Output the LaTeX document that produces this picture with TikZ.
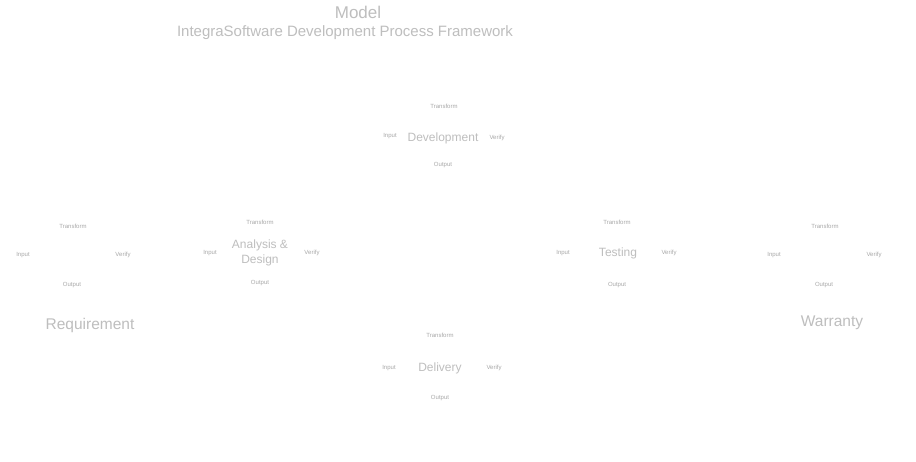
\documentclass[tikz,border=0pt]{standalone}
\usepackage{fontspec}
\setmainfont{Liberation Sans}
\definecolor{faint}{HTML}{BEBEBE}
\definecolor{faintsmall}{HTML}{A8A8A8}
\begin{document}
\begin{tikzpicture}[x=1pt,y=-1pt,
  every node/.style={inner sep=0pt,outer sep=0pt},
  titlebig/.style={text=faint,font=\fontsize{17}{18}\selectfont},
  subtitle/.style={text=faint,font=\fontsize{15}{16}\selectfont},
  phase/.style={text=faint,font=\fontsize{12}{15}\selectfont,align=center},
  phasebig/.style={text=faint,font=\fontsize{15.5}{17}\selectfont},
  tag/.style={text=faintsmall,font=\fontsize{6}{7}\selectfont}]
\fill[white] (0,0) rectangle (916,461);
\useasboundingbox (0,0) rectangle (916,461);
\node[titlebig] (title) at (358,12) {Model};
\node[subtitle] (subtitle) at (345,33) {IntegraSoftware Development Process Framework};
% Development
\node[phase] (dev) at (443,138) {Development};
\node[tag] (devT) at (444,106) {Transform};
\node[tag] (devI) at (390,136) {Input};
\node[tag] (devV) at (497,138) {Verify};
\node[tag] (devO) at (443,165) {Output};
% Requirement
\node[phasebig] (req) at (90,325) {Requirement};
\node[tag] (reqT) at (73,226) {Transform};
\node[tag] (reqI) at (23,255) {Input};
\node[tag] (reqV) at (123,255) {Verify};
\node[tag] (reqO) at (72,285) {Output};
% Analysis & Design
\node[phase] (ana) at (260,253) {Analysis \&\\Design};
\node[tag] (anaT) at (260,222) {Transform};
\node[tag] (anaI) at (210,253) {Input};
\node[tag] (anaV) at (312,253) {Verify};
\node[tag] (anaO) at (260,283) {Output};
% Testing
\node[phase] (tst) at (618,253) {Testing};
\node[tag] (tstT) at (617,222) {Transform};
\node[tag] (tstI) at (563,253) {Input};
\node[tag] (tstV) at (669,253) {Verify};
\node[tag] (tstO) at (617,285) {Output};
% Warranty
\node[phasebig] (war) at (832,323) {Warranty};
\node[tag] (warT) at (825,226) {Transform};
\node[tag] (warI) at (774,255) {Input};
\node[tag] (warV) at (874,255) {Verify};
\node[tag] (warO) at (824,285) {Output};
% Delivery
\node[phase] (del) at (440,368) {Delivery};
\node[tag] (delT) at (440,335) {Transform};
\node[tag] (delI) at (389,368) {Input};
\node[tag] (delV) at (494,368) {Verify};
\node[tag] (delO) at (440,398) {Output};
\end{tikzpicture}
\end{document}
